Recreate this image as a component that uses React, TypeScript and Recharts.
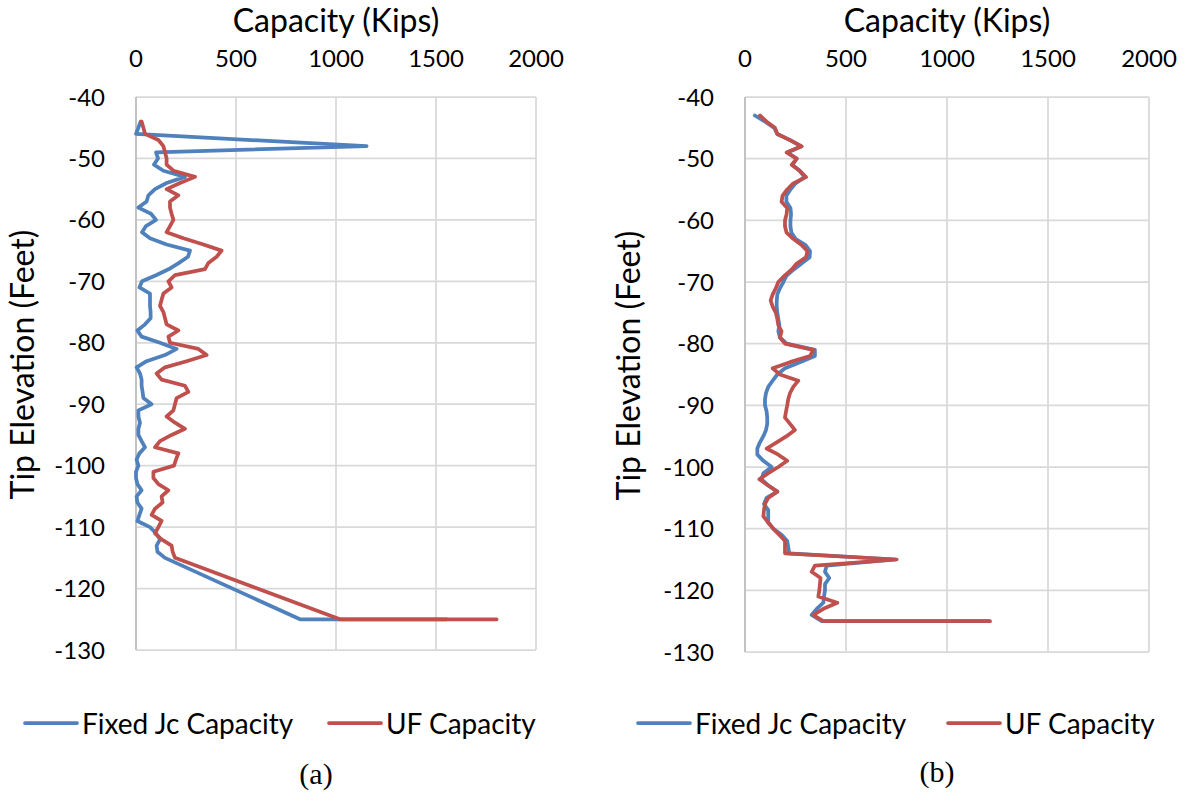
import { ScatterChart, Scatter, XAxis, YAxis, CartesianGrid } from "recharts"

const BLUE = "#4f81bd"
const RED = "#c0504d"
const FONT = "Lato, 'Open Sans', sans-serif"

const capacityTicks = [0, 500, 1000, 1500, 2000]
const elevationTicks = [-130, -120, -110, -100, -90, -80, -70, -60, -50, -40]

// Panel (a): tip elevation (ft) vs capacity (kips)
const fixedJcElevA = [
  -44, -45, -46, -48, -49, -50, -51, -52, -53, -54, -55, -56, -57, -58, -59, -60,
  -61, -62, -63, -64, -65, -66, -67, -68, -69, -70, -71, -72, -73, -74, -75, -76,
  -77, -78, -79, -80, -81, -82, -83, -84, -85, -86, -87, -88, -89, -90, -91, -92,
  -93, -94, -95, -96, -97, -98, -99, -100, -101, -102, -103, -104, -105, -106,
  -107, -108, -109, -110, -111, -112, -113, -114, -115, -125, -125,
]
const fixedJcCapA = [
  23, 12, 0,
  1153, 100, 110, 90, 137, 245, 153, 95, 62, 53,
  12, 75, 100, 50, 30, 70, 153, 270, 260, 215,
  165, 100, 30, 17, 70, 70, 70, 73, 73, 45,
  7, 28, 120, 203, 145, 53, 3, 20, 28, 28,
  33, 37, 78, 12, 12, 20, 12, 12, 28, 45,
  17, 3, 12, 0, 0, 7, 28, 3, 7, 28,
  17, 7, 70, 100, 120, 103, 107, 145,
  820, 1553,
]

const ufElevA = [
  -44, -45, -46, -47, -48, -49, -50, -51, -52, -53, -54, -55, -56, -57, -58, -59,
  -60, -61, -62, -63, -64, -65, -66, -67, -68, -69, -70, -71, -72, -73, -74, -75,
  -76, -77, -78, -79, -80, -81, -82, -83, -84, -85, -86, -87, -88, -89, -90, -91,
  -92, -93, -94, -95, -96, -97, -98, -99, -100, -101, -102, -103, -104, -105,
  -106, -107, -108, -109, -110, -111, -112, -113, -114, -115, -125, -125,
]
const ufCapA = [
  28, 37, 45, 112, 137, 145, 153, 153, 187, 295,
  220, 153, 212, 170, 170, 178, 187, 170, 153, 237,
  337, 428, 403, 362, 345, 195, 162, 178, 137, 128,
  120, 137, 145, 153, 212, 162, 170, 312, 353, 253,
  145, 103, 128, 245, 262, 203, 195, 187, 153, 195,
  245, 178, 120, 95, 212, 200, 190, 87, 87, 112,
  162, 128, 133, 95, 78, 128, 112, 95, 128, 178,
  183, 195,
  1020, 1803,
]

// Panel (b): both series share the same elevations
const elevB = [
  -43, -44, -45, -46, -47, -48, -49, -50, -51, -52, -53, -54, -55, -56, -57, -58,
  -59, -60, -61, -62, -63, -64, -65, -66, -67, -68, -69, -70, -71, -72, -73, -74,
  -75, -76, -77, -78, -79, -80, -81, -82, -83, -84, -85, -86, -87, -88, -89, -90,
  -91, -92, -93, -94, -95, -96, -97, -98, -99, -100, -101, -102, -103, -104, -105,
  -106, -107, -108, -109, -110, -111, -112, -113, -114, -115, -116, -117, -118,
  -119, -120, -121, -122, -123, -124, -125, -125,
]
const fixedJcCapB = [
  49, 100, 145, 160, 223, 280, 210, 256, 235, 272,
  295, 250, 225, 205, 205, 225, 228, 225, 225, 230,
  250, 300, 322, 320, 280, 240, 205, 190, 173, 160,
  157, 157, 160, 165, 170, 165, 173, 206, 346, 346,
  272, 198, 160, 137, 115, 104, 99, 99, 107, 110,
  110, 104, 91, 74, 61, 61, 91, 132, 91, 82,
  115, 160, 107, 94, 115, 115, 115, 140, 181, 209,
  214, 219, 745, 404, 396, 417, 396, 396, 391, 388,
  355, 330, 380,
  1205,
]
const ufCapB = [
  74, 107, 148, 160, 223, 280, 206, 256, 231, 272,
  302, 239, 209, 186, 181, 209, 206, 198, 198, 206,
  239, 280, 309, 302, 256, 230, 195, 165, 153, 137,
  127, 137, 153, 160, 165, 181, 173, 198, 338, 322,
  223, 137, 173, 264, 239, 223, 214, 209, 203, 198,
  223, 247, 206, 157, 107, 165, 209, 165, 115, 71,
  115, 160, 115, 99, 94, 91, 115, 140, 170, 198,
  198, 198, 751, 346, 330, 374, 371, 368, 363, 457,
  388, 338, 388,
  1213,
]

type Point = { elev: number; cap: number }

const toPoints = (elev: number[], cap: number[]): Point[] =>
  elev.map((e, i) => ({ elev: e, cap: cap[i] }))

const tickStyle = { fill: "#000", fontSize: 24, fontFamily: FONT }
const LINE_WIDTH = 3.75

// joins the scatter points (already in chart pixels) in data order
const seriesLine = (color: string) => (props: { points?: { x: number; y: number }[] }) => (
  <polyline
    points={(props.points ?? []).map((p) => `${p.x},${p.y}`).join(" ")}
    fill="none"
    stroke={color}
    strokeWidth={LINE_WIDTH}
    strokeLinejoin="round"
    strokeLinecap="round"
  />
)

interface PanelProps {
  fixedJc: Point[]
  uf: Point[]
  axisWidth: number
  right: number
  bottom: number
  titleOffset: number
}

function CapacityPanel({ fixedJc, uf, axisWidth, right, bottom, titleOffset }: PanelProps) {
  return (
    <ScatterChart
      width={595}
      height={700}
      margin={{ top: 0, right, bottom, left: 0 }}
      style={{ fontFamily: FONT }}
    >
      <CartesianGrid stroke="#d9d9d9" strokeWidth={1.75} />
      <XAxis
        type="number"
        dataKey="cap"
        orientation="top"
        domain={[0, 2000]}
        ticks={capacityTicks}
        height={97}
        axisLine={false}
        tickLine={false}
        tickMargin={24}
        tick={tickStyle}
        label={{
          value: "Capacity (Kips)",
          position: "insideTop",
          offset: 9,
          fill: "#000",
          fontSize: 32,
          fontFamily: FONT,
        }}
      />
      <YAxis
        type="number"
        dataKey="elev"
        domain={[-130, -40]}
        ticks={elevationTicks}
        width={axisWidth}
        axisLine={{ stroke: "#bfbfbf", strokeWidth: 1.75 }}
        tickLine={false}
        tickMargin={25}
        tick={tickStyle}
        label={{
          value: "Tip Elevation (Feet)",
          angle: -90,
          position: "insideLeft",
          offset: titleOffset,
          dy: -9,
          fill: "#000",
          fontSize: 32,
          fontFamily: FONT,
          style: { textAnchor: "middle" },
        }}
      />
      <Scatter
        name="Fixed Jc Capacity"
        data={fixedJc}
        fill={BLUE}
        line={seriesLine(BLUE)}
        shape={() => <g />}
        isAnimationActive={false}
      />
      <Scatter
        name="UF Capacity"
        data={uf}
        fill={RED}
        line={seriesLine(RED)}
        shape={() => <g />}
        isAnimationActive={false}
      />
    </ScatterChart>
  )
}

function LegendItem({ x, color, label }: { x: number; color: string; label: string }) {
  return (
    <g>
      <line x1={x} x2={x + 52} y1={723} y2={723} stroke={color} strokeWidth={LINE_WIDTH} strokeLinecap="round" />
      <text x={x + 57} y={734} fontSize={28} fontFamily={FONT} fill="#000">
        {label}
      </text>
    </g>
  )
}

export default function App() {
  return (
    <div
      style={{
        position: "absolute",
        left: 0,
        top: 0,
        width: 1190,
        height: 792,
        background: "#fff",
        overflow: "hidden",
      }}
    >
      <div style={{ position: "absolute", left: 0, top: 0 }}>
        <CapacityPanel
          fixedJc={toPoints(fixedJcElevA, fixedJcCapA)}
          uf={toPoints(ufElevA, ufCapA)}
          axisWidth={136}
          right={59}
          bottom={50}
          titleOffset={23}
        />
      </div>
      <div style={{ position: "absolute", left: 595, top: 0 }}>
        <CapacityPanel
          fixedJc={toPoints(elevB, fixedJcCapB)}
          uf={toPoints(elevB, ufCapB)}
          axisWidth={150}
          right={41}
          bottom={48}
          titleOffset={34}
        />
      </div>
      <svg
        width={1190}
        height={792}
        style={{ position: "absolute", left: 0, top: 0, pointerEvents: "none" }}
      >
        <LegendItem x={25} color={BLUE} label="Fixed Jc Capacity" />
        <LegendItem x={329} color={RED} label="UF Capacity" />
        <LegendItem x={638} color={BLUE} label="Fixed Jc Capacity" />
        <LegendItem x={948} color={RED} label="UF Capacity" />
        <text x={316} y={784} textAnchor="middle" fontSize={30} fontFamily="'Liberation Serif', 'Times New Roman', serif" fill="#000">
          (a)
        </text>
        <text x={937} y={782} textAnchor="middle" fontSize={30} fontFamily="'Liberation Serif', 'Times New Roman', serif" fill="#000">
          (b)
        </text>
      </svg>
    </div>
  )
}
